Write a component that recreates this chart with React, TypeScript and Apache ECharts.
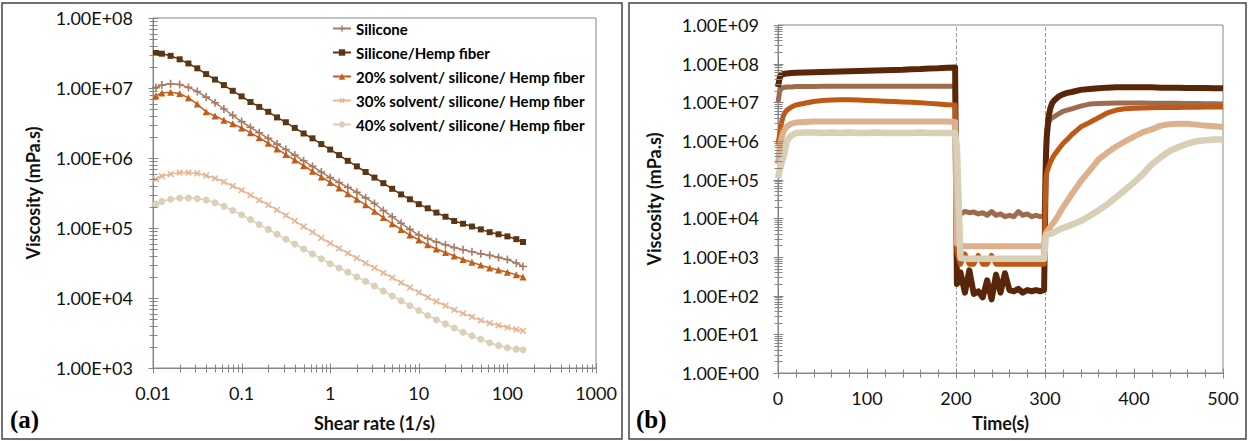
import React, { useEffect, useRef } from 'react';
import * as echarts from 'echarts';

// ---------- shared ----------
const seriesNames = [
  'Silicone',
  'Silicone/Hemp fiber',
  '20% solvent/ silicone/ Hemp fiber',
  '30% solvent/ silicone/ Hemp fiber',
  '40% solvent/ silicone/ Hemp fiber',
];
const colorsA = ['#A87B63', '#5C3512', '#C45C1A', '#E6B593', '#DBD0B9'];
const colorsB = ['#9E6B4E', '#5A260A', '#BF5A16', '#DDB08E', '#D9CEB6'];

// ---------- (a) shear-rate sweep ----------
const shearRates = [
  0.0108, 0.0126, 0.0158, 0.02, 0.0251, 0.0316, 0.0398, 0.0501, 0.0631, 0.0794,
  0.1, 0.126, 0.158, 0.2, 0.251, 0.316, 0.398, 0.501, 0.631, 0.794,
  1, 1.26, 1.58, 2, 2.51, 3.16, 3.98, 5.01, 6.31, 7.94,
  10, 12.6, 15.8, 20, 25.1, 31.6, 39.8, 50.1, 63.1, 79.4,
  100, 126, 150,
];
const siliconeA = [
  1.02e7, 1.10e7, 1.15e7, 1.12e7, 1.02e7, 8.91e6, 7.41e6, 6.17e6, 5.01e6, 4.07e6,
  3.31e6, 2.75e6, 2.29e6, 1.91e6, 1.58e6, 1.32e6, 1.10e6, 9.12e5, 7.59e5, 6.31e5,
  5.25e5, 4.47e5, 3.80e5, 3.24e5, 2.69e5, 2.24e5, 1.78e5, 1.45e5, 1.17e5, 9.55e4,
  7.94e4, 7.08e4, 6.31e4, 5.75e4, 5.25e4, 4.90e4, 4.57e4, 4.27e4, 4.07e4, 3.80e4,
  3.55e4, 3.16e4, 2.82e4,
];
const hempA = [
  3.16e7, 3.09e7, 2.88e7, 2.57e7, 2.24e7, 1.91e7, 1.58e7, 1.32e7, 1.10e7, 9.12e6,
  7.59e6, 6.31e6, 5.37e6, 4.57e6, 3.80e6, 3.24e6, 2.69e6, 2.24e6, 1.91e6, 1.58e6,
  1.32e6, 1.10e6, 9.12e5, 7.59e5, 6.31e5, 5.25e5, 4.37e5, 3.63e5, 3.02e5, 2.57e5,
  2.19e5, 1.91e5, 1.66e5, 1.45e5, 1.26e5, 1.15e5, 1.05e5, 9.55e4, 8.71e4, 8.13e4,
  7.59e4, 6.92e4, 6.31e4,
];
const solvent20A = [
  7.76e6, 8.51e6, 8.71e6, 8.32e6, 7.24e6, 5.89e6, 4.57e6, 3.98e6, 3.47e6, 3.09e6,
  2.69e6, 2.29e6, 1.95e6, 1.62e6, 1.35e6, 1.12e6, 9.33e5, 7.76e5, 6.46e5, 5.37e5,
  4.47e5, 3.72e5, 3.09e5, 2.57e5, 2.14e5, 1.74e5, 1.41e5, 1.15e5, 9.55e4, 7.94e4,
  6.76e4, 5.75e4, 5.01e4, 4.47e4, 3.98e4, 3.55e4, 3.24e4, 2.95e4, 2.69e4, 2.51e4,
  2.34e4, 2.14e4, 2.00e4,
];
const solvent30A = [
  5.01e5, 5.50e5, 5.89e5, 6.17e5, 6.17e5, 6.03e5, 5.62e5, 5.13e5, 4.57e5, 3.98e5,
  3.47e5, 2.95e5, 2.51e5, 2.14e5, 1.82e5, 1.51e5, 1.26e5, 1.05e5, 8.71e4, 7.24e4,
  6.03e4, 5.13e4, 4.37e4, 3.72e4, 3.16e4, 2.69e4, 2.29e4, 1.95e4, 1.66e4, 1.41e4,
  1.20e4, 1.02e4, 8.91e3, 7.76e3, 6.76e3, 6.03e3, 5.37e3, 4.79e3, 4.37e3, 4.07e3,
  3.80e3, 3.55e3, 3.39e3,
];
const solvent40A = [
  2.19e5, 2.40e5, 2.57e5, 2.69e5, 2.69e5, 2.63e5, 2.51e5, 2.29e5, 2.04e5, 1.78e5,
  1.55e5, 1.32e5, 1.12e5, 9.55e4, 8.13e4, 6.92e4, 5.89e4, 5.01e4, 4.27e4, 3.63e4,
  3.09e4, 2.69e4, 2.34e4, 2.00e4, 1.74e4, 1.48e4, 1.26e4, 1.07e4, 9.12e3, 7.76e3,
  6.61e3, 5.62e3, 4.90e3, 4.27e3, 3.72e3, 3.24e3, 2.88e3, 2.57e3, 2.29e3, 2.09e3,
  1.95e3, 1.86e3, 1.82e3,
];
const xLabelsA = ['0.01', '0.1', '1', '10', '100', '1000'];
const yLabelsA = ['1.00E+03', '1.00E+04', '1.00E+05', '1.00E+06', '1.00E+07', '1.00E+08'];

// ---------- (b) time sweep ----------
const times = [
  0, 2, 4, 6, 8, 10, 15, 20, 30, 40, 50, 60, 70, 80, 90, 100, 110, 120, 130, 140, 150, 160, 170, 180, 190, 199,
  201, 205, 210, 215, 220, 225, 230, 235, 240, 245, 250, 255, 260, 265, 270, 275, 280, 285, 290, 295, 299,
  301, 302, 304, 306, 308, 310, 315, 320, 325, 330, 340, 350, 360, 370, 380, 390, 400, 410, 420, 430, 440, 450, 460, 470, 480, 490, 500,
];
const siliconeB = [
  1.0e7, 2.0e7, 2.3e7, 2.4e7, 2.45e7, 2.5e7, 2.5e7, 2.55e7, 2.55e7, 2.55e7, 2.6e7, 2.6e7, 2.6e7, 2.6e7, 2.6e7, 2.6e7, 2.6e7, 2.6e7, 2.6e7, 2.6e7, 2.6e7, 2.6e7, 2.6e7, 2.6e7, 2.6e7, 2.6e7,
  1.5e4, 1.3e4, 1.5e4, 1.4e4, 1.45e4, 1.3e4, 1.4e4, 1.2e4, 1.5e4, 1.2e4, 1.3e4, 1.1e4, 1.2e4, 1.1e4, 1.5e4, 1.2e4, 1.3e4, 1.1e4, 1.2e4, 1.1e4, 1.2e4,
  6.0e5, 1.9e6, 3.0e6, 3.6e6, 4.0e6, 4.2e6, 5.0e6, 5.8e6, 6.3e6, 6.8e6, 8.0e6, 9.0e6, 9.3e6, 9.5e6, 9.6e6, 9.6e6, 9.6e6, 9.6e6, 9.5e6, 9.5e6, 9.4e6, 9.4e6, 9.3e6, 9.3e6, 9.2e6, 9.2e6, 9.1e6,
];
const hempB = [
  2.5e7, 4.5e7, 5.2e7, 5.4e7, 5.5e7, 5.6e7, 5.7e7, 5.8e7, 5.9e7, 6.0e7, 6.1e7, 6.2e7, 6.3e7, 6.4e7, 6.5e7, 6.6e7, 6.7e7, 6.8e7, 6.9e7, 7.0e7, 7.2e7, 7.3e7, 7.5e7, 7.6e7, 7.8e7, 8.0e7,
  2.0e2, 4.0e2, 1.2e2, 4.5e2, 1.1e2, 1.3e2, 9.0e1, 2.5e2, 8.0e1, 3.5e2, 1.2e2, 3.8e2, 1.4e2, 1.3e2, 1.5e2, 1.2e2, 1.4e2, 1.3e2, 1.4e2, 1.3e2, 1.4e2,
  3.6e5, 1.3e6, 4.2e6, 7.0e6, 9.5e6, 1.1e7, 1.4e7, 1.6e7, 1.75e7, 1.85e7, 2.1e7, 2.2e7, 2.3e7, 2.4e7, 2.45e7, 2.45e7, 2.45e7, 2.45e7, 2.45e7, 2.4e7, 2.4e7, 2.4e7, 2.35e7, 2.35e7, 2.35e7, 2.3e7, 2.3e7,
];
const solvent20B = [
  8.0e5, 1.6e6, 3.0e6, 4.5e6, 5.5e6, 6.3e6, 7.6e6, 8.5e6, 9.5e6, 1.05e7, 1.12e7, 1.15e7, 1.17e7, 1.17e7, 1.15e7, 1.12e7, 1.1e7, 1.07e7, 1.05e7, 1.02e7, 1.0e7, 9.7e6, 9.4e6, 9.0e6, 8.7e6, 8.5e6,
  1.4e3, 6.5e2, 1.2e3, 6.5e2, 6.5e2, 1.1e3, 6.5e2, 6.5e2, 1.1e3, 6.5e2, 6.5e2, 6.5e2, 6.5e2, 6.5e2, 6.5e2, 6.5e2, 6.5e2, 6.5e2, 6.5e2, 6.5e2, 6.5e2,
  1.0e5, 1.5e5, 2.1e5, 2.8e5, 3.5e5, 4.2e5, 6.0e5, 8.5e5, 1.1e6, 1.45e6, 2.3e6, 3.0e6, 4.0e6, 5.3e6, 6.3e6, 6.8e6, 7.0e6, 7.1e6, 7.2e6, 7.3e6, 7.4e6, 7.4e6, 7.5e6, 7.5e6, 7.6e6, 7.6e6, 7.6e6,
];
const solvent30B = [
  2.5e5, 7.0e5, 1.2e6, 1.7e6, 2.1e6, 2.4e6, 2.8e6, 3.0e6, 3.1e6, 3.2e6, 3.2e6, 3.2e6, 3.2e6, 3.2e6, 3.2e6, 3.2e6, 3.2e6, 3.2e6, 3.2e6, 3.2e6, 3.2e6, 3.2e6, 3.2e6, 3.2e6, 3.2e6, 3.1e6,
  2.2e3, 2.0e3, 1.9e3, 1.9e3, 1.9e3, 1.9e3, 1.9e3, 1.9e3, 1.9e3, 1.9e3, 1.9e3, 1.9e3, 1.9e3, 1.9e3, 1.9e3, 1.9e3, 1.9e3, 1.9e3, 1.9e3, 1.9e3, 1.85e3,
  4.2e3, 4.5e3, 5.2e3, 6.0e3, 7.0e3, 8.0e3, 1.2e4, 1.9e4, 2.8e4, 4.2e4, 9.0e4, 1.7e5, 3.3e5, 5.0e5, 7.2e5, 9.8e5, 1.3e6, 1.7e6, 2.0e6, 2.5e6, 2.7e6, 2.8e6, 2.8e6, 2.65e6, 2.5e6, 2.4e6, 2.3e6,
];
const solvent40B = [
  1.1e5, 1.8e5, 2.8e5, 3.8e5, 6.0e5, 1.0e6, 1.4e6, 1.6e6, 1.65e6, 1.65e6, 1.6e6, 1.65e6, 1.6e6, 1.65e6, 1.6e6, 1.6e6, 1.65e6, 1.6e6, 1.6e6, 1.6e6, 1.6e6, 1.65e6, 1.6e6, 1.6e6, 1.6e6, 1.6e6,
  7.0e5, 9.5e2, 9.0e2, 9.0e2, 9.0e2, 9.0e2, 9.0e2, 9.0e2, 9.0e2, 9.0e2, 9.0e2, 9.0e2, 9.0e2, 9.0e2, 9.0e2, 9.0e2, 9.0e2, 9.0e2, 9.0e2, 9.0e2, 9.0e2,
  3.7e3, 3.8e3, 3.9e3, 4.0e3, 4.1e3, 4.3e3, 5.0e3, 5.6e3, 6.2e3, 6.8e3, 8.5e3, 1.15e4, 1.6e4, 2.3e4, 3.5e4, 5.5e4, 8.5e4, 1.4e5, 2.5e5, 3.8e5, 5.5e5, 7.0e5, 8.5e5, 9.8e5, 1.05e6, 1.1e6, 1.1e6,
];
const yLabelsB = ['1.00E+00', '1.00E+01', '1.00E+02', '1.00E+03', '1.00E+04', '1.00E+05', '1.00E+06', '1.00E+07', '1.00E+08', '1.00E+09'];
const markTimes = [200, 300];

const FONT = 'Lato';
const AXIS_COLOR = '#868686';
const plusPath = 'path://M4,0H6V4H10V6H6V10H4V6H0V4H4Z';

function logTicks(minExp: number, maxExp: number) {
  const t: { v: number; major: boolean }[] = [];
  for (let e = minExp; e <= maxExp; e++) {
    t.push({ v: Math.pow(10, e), major: true });
    if (e < maxExp) for (let m = 2; m <= 9; m++) t.push({ v: m * Math.pow(10, e), major: false });
  }
  return t;
}

export default function App() {
  const ref = useRef<HTMLDivElement>(null);
  useEffect(() => {
    document.body.style.margin = '0';
    if (!ref.current) return;
    const chart = echarts.init(ref.current, undefined, { renderer: 'svg' });

    const valsA = [siliconeA, hempA, solvent20A, solvent30A, solvent40A];
    const valsB = [siliconeB, hempB, solvent20B, solvent30B, solvent40B];
    const symbols = [plusPath, 'rect', 'triangle', plusPath, 'circle'];
    const symRot = [0, 0, 0, 45, 0];
    const symSize = [8, 6, 7, 8, 7];
    const bandWidthB = [5, 6, 5, 6, 6.5];

    const labelStyle = { fontFamily: FONT, fontSize: 18, color: '#111' };
    const nameStyle = { fontFamily: FONT, fontSize: 18, fontWeight: 'bold', color: '#111' };

    const seriesA = seriesNames.map((name, i) => ({
      name,
      type: 'line',
      xAxisIndex: 0,
      yAxisIndex: 0,
      data: shearRates.map((x, j) => [x, valsA[i][j]]),
      symbol: symbols[i],
      symbolRotate: symRot[i],
      symbolSize: symSize[i],
      showSymbol: true,
      lineStyle: { width: 1.5, color: colorsA[i] },
      itemStyle: { color: colorsA[i] },
      z: 3,
    }));

    const seriesB = seriesNames.map((name, i) => ({
      name,
      type: 'line',
      xAxisIndex: 1,
      yAxisIndex: 1,
      data: times.map((t, j) => [t, valsB[i][j]]),
      showSymbol: false,
      symbol: symbols[i],
      lineStyle: { width: bandWidthB[i], color: colorsB[i], join: 'round' },
      itemStyle: { color: colorsB[i] },
      z: 3,
      ...(i === 0
        ? {
            markLine: {
              silent: true,
              symbol: ['none', 'none'],
              label: { show: false },
              lineStyle: { color: '#9a9a9a', type: 'dashed', width: 1 },
              data: markTimes.map((t) => ({ xAxis: t })),
              z: 2,
            },
          }
        : {}),
    }));

    const baseGraphics: any[] = [
      { type: 'rect', shape: { x: 2, y: 3, width: 620, height: 436 }, style: { fill: 'none', stroke: '#444', lineWidth: 1.5 }, silent: true },
      { type: 'rect', shape: { x: 629, y: 3, width: 617, height: 436 }, style: { fill: 'none', stroke: '#444', lineWidth: 1.5 }, silent: true },
      { type: 'text', x: 10, y: 419, style: { text: '(a)', font: 'bold 25px "Liberation Serif"', fill: '#000', verticalAlign: 'middle' }, silent: true },
      { type: 'text', x: 636, y: 419, style: { text: '(b)', font: 'bold 25px "Liberation Serif"', fill: '#000', verticalAlign: 'middle' }, silent: true },
    ];

    chart.setOption({
      animation: false,
      grid: [
        { left: 153, top: 18, width: 443, height: 350, show: true, borderColor: AXIS_COLOR, borderWidth: 1, backgroundColor: 'transparent' },
        { left: 778, top: 25, width: 445, height: 348, show: true, borderColor: AXIS_COLOR, borderWidth: 1, backgroundColor: 'transparent' },
      ],
      legend: {
        data: seriesNames,
        orient: 'vertical',
        left: 327,
        top: 16,
        itemWidth: 18,
        itemHeight: 8,
        itemGap: 9,
        textStyle: { fontFamily: FONT, fontSize: 15, fontWeight: 'bold', color: '#000' },
      },
      xAxis: [
        {
          type: 'log',
          gridIndex: 0,
          logBase: 10,
          min: 0.01,
          max: 1000,
          splitNumber: 5,
          axisLine: { show: true, lineStyle: { color: AXIS_COLOR } },
          axisTick: { show: false },
          splitLine: { show: false },
          axisLabel: {
            ...labelStyle,
            margin: 16,
            formatter: (v: number) => xLabelsA[Math.round(Math.log10(v)) + 2],
          },
          name: 'Shear rate (1/s)',
          nameLocation: 'middle',
          nameGap: 46,
          nameTextStyle: nameStyle,
        },
        {
          type: 'value',
          gridIndex: 1,
          min: 0,
          max: 500,
          interval: 100,
          axisLine: { show: true, lineStyle: { color: AXIS_COLOR } },
          axisTick: { show: false },
          splitLine: { show: false },
          axisLabel: { ...labelStyle, margin: 16 },
          name: 'Time(s)',
          nameLocation: 'middle',
          nameGap: 41,
          nameTextStyle: nameStyle,
        },
      ],
      yAxis: [
        {
          type: 'log',
          gridIndex: 0,
          logBase: 10,
          min: 1e3,
          max: 1e8,
          splitNumber: 5,
          axisLine: { show: true, lineStyle: { color: AXIS_COLOR } },
          axisTick: { show: false },
          splitLine: { show: false },
          axisLabel: {
            ...labelStyle,
            margin: 20,
            formatter: (v: number) => yLabelsA[Math.round(Math.log10(v)) - 3],
          },
          name: 'Viscosity (mPa.s)',
          nameLocation: 'middle',
          nameGap: 111,
          nameTextStyle: nameStyle,
        },
        {
          type: 'log',
          gridIndex: 1,
          logBase: 10,
          min: 1,
          max: 1e9,
          splitNumber: 10,
          axisLine: { show: true, lineStyle: { color: AXIS_COLOR } },
          axisTick: { show: false },
          splitLine: { show: false },
          axisLabel: {
            ...labelStyle,
            margin: 19,
            formatter: (v: number) => yLabelsB[Math.round(Math.log10(v))],
          },
          name: 'Viscosity (mPa.s)',
          nameLocation: 'middle',
          nameGap: 115,
          nameTextStyle: nameStyle,
        },
      ],
      graphic: baseGraphics,
      series: [...seriesA, ...seriesB],
    });

    // axis tick marks crossing the axis lines, positioned through the charts' own scales
    const tickEls: any[] = [];
    const addTicks = (gi: number, dir: 'x' | 'y', ticks: { v: number; major: boolean }[], fixed: number) => {
      ticks.forEach((t) => {
        const p = chart.convertToPixel({ gridIndex: gi } as any, dir === 'x' ? [t.v, fixed] : [fixed, t.v]) as number[];
        if (!p || !isFinite(p[0]) || !isFinite(p[1])) return;
        const h = t.major ? 5 : 4;
        const x = Math.round(p[0]) + 0.5;
        const y = Math.round(p[1]) + 0.5;
        const shape = dir === 'x' ? { x1: x, y1: y - h, x2: x, y2: y + h } : { x1: x - h, y1: y, x2: x + h, y2: y };
        tickEls.push({ type: 'line', shape, style: { stroke: AXIS_COLOR, lineWidth: 1 }, silent: true, z: 10 });
      });
    };
    const ticksBx: { v: number; major: boolean }[] = [];
    for (let t = 0; t <= 500; t += 20) ticksBx.push({ v: t, major: t % 100 === 0 });
    addTicks(0, 'x', logTicks(-2, 3), 1e3);
    addTicks(0, 'y', logTicks(3, 8), 0.01);
    addTicks(1, 'x', ticksBx, 1);
    addTicks(1, 'y', logTicks(0, 9), 0);
    chart.setOption({ graphic: [...baseGraphics, ...tickEls] });

    return () => chart.dispose();
  }, []);
  return <div ref={ref} style={{ width: 1248, height: 441 }} />;
}
